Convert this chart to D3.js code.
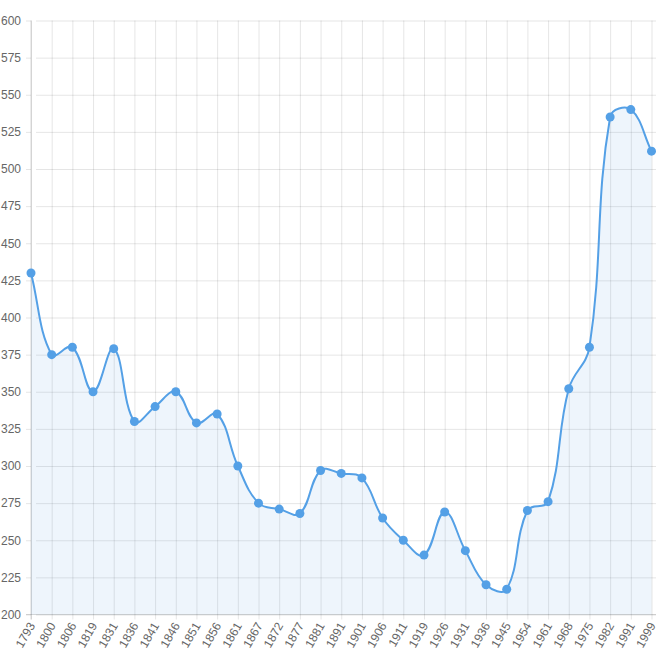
<!DOCTYPE html>
<html><head><meta charset="utf-8">
<script src="https://cdn.jsdelivr.net/npm/d3@7"></script>
<style>body{margin:0;background:#fff;}svg{display:block;}</style>
</head><body>
<svg id="c" width="665" height="663"></svg>
<script>
const years = ["1793","1800","1806","1819","1831","1836","1841","1846","1851","1856","1861","1867","1872","1877","1881","1891","1901","1906","1911","1919","1926","1931","1936","1945","1954","1961","1968","1975","1982","1991","1999"];
const values = [430,375,380,350,379,330,340,350,329,335,300,275,271,268,297,295,292,265,250,240,269,243,220,217,270,276,352,380,535,540,512];
const yTicks = [200,225,250,275,300,325,350,375,400,425,450,475,500,525,550,575,600];

const svg = d3.select("#c");
const L = 31, R = 651.5, T = 20.5, B = 614.5, GR = 656;
const x = d3.scalePoint().domain(years).range([L, R]);
const y = d3.scaleLinear().domain([200, 600]).range([B, T]);
const grid = "rgba(0,0,0,0.1)";

// horizontal grid
const yAxis = d3.axisLeft(y).tickValues(yTicks).tickSize(-(GR - L)).tickPadding(10);
const gy = svg.append("g").attr("transform", `translate(${L},0)`).call(yAxis);
gy.select(".domain").remove();
gy.selectAll(".tick line").attr("stroke", grid).attr("x1", 5).attr("x2", GR - L);
gy.selectAll(".tick").append("line").attr("x1", -5).attr("x2", 0).attr("stroke", grid);
gy.selectAll("text").attr("fill", "#666").style("font", "12px 'Liberation Sans', Arial, sans-serif");

// vertical grid
const xAxis = d3.axisBottom(x).tickSize(-(B - T)).tickPadding(0);
const gx = svg.append("g").attr("transform", `translate(0,${B})`).call(xAxis);
gx.select(".domain").remove();
gx.selectAll(".tick line").attr("stroke", grid).attr("y1", 5).attr("y2", -(B - T));
gx.selectAll("text")
  .attr("fill", "#666")
  .style("font", "12px 'Liberation Sans', Arial, sans-serif")
  .attr("text-anchor", "end")
  .attr("dy", null)
  .attr("y", 0)
  .attr("transform", "translate(4,11) rotate(-60)");

// axis lines
svg.append("line").attr("x1", L).attr("x2", L).attr("y1", T).attr("y2", B + 5).attr("stroke", "rgba(0,0,0,0.15)");
svg.append("line").attr("x1", L - 5).attr("x2", GR).attr("y1", B).attr("y2", B).attr("stroke", "rgba(0,0,0,0.15)");

// Chart.js-style spline (tension 0.4)
const pts = years.map((yr, i) => ({x: x(yr), y: y(values[i])}));
const t = 0.4;
pts.forEach((p, i) => {
  const prev = pts[i - 1] || p, next = pts[i + 1] || p;
  const d01 = Math.hypot(p.x - prev.x, p.y - prev.y);
  const d12 = Math.hypot(next.x - p.x, next.y - p.y);
  let s01 = d01 / (d01 + d12), s12 = d12 / (d01 + d12);
  s01 = isNaN(s01) ? 0 : s01; s12 = isNaN(s12) ? 0 : s12;
  const fa = t * s01, fb = t * s12;
  p.cp1x = p.x - fa * (next.x - prev.x); p.cp1y = p.y - fa * (next.y - prev.y);
  p.cp2x = p.x + fb * (next.x - prev.x); p.cp2y = p.y + fb * (next.y - prev.y);
  const cap = (v, a, b) => Math.max(Math.min(v, b), a);
  p.cp1x = cap(p.cp1x, L, R); p.cp2x = cap(p.cp2x, L, R);
  p.cp1y = cap(p.cp1y, T, B); p.cp2y = cap(p.cp2y, T, B);
});
let d = `M${pts[0].x},${pts[0].y}`;
for (let i = 1; i < pts.length; i++) {
  const a = pts[i - 1], b = pts[i];
  d += `C${a.cp2x},${a.cp2y},${b.cp1x},${b.cp1y},${b.x},${b.y}`;
}
const area = d + `L${pts[pts.length-1].x},${B}L${pts[0].x},${B}Z`;
const col = "#54a0e6";
svg.append("path").attr("d", area).attr("fill", "rgba(84,160,230,0.1)");
svg.append("path").attr("d", d).attr("fill", "none").attr("stroke", col).attr("stroke-width", 2);
svg.append("g").selectAll("circle").data(pts).join("circle")
  .attr("cx", p => p.x).attr("cy", p => p.y).attr("r", 4.5).attr("fill", col);
</script>
</body></html>
